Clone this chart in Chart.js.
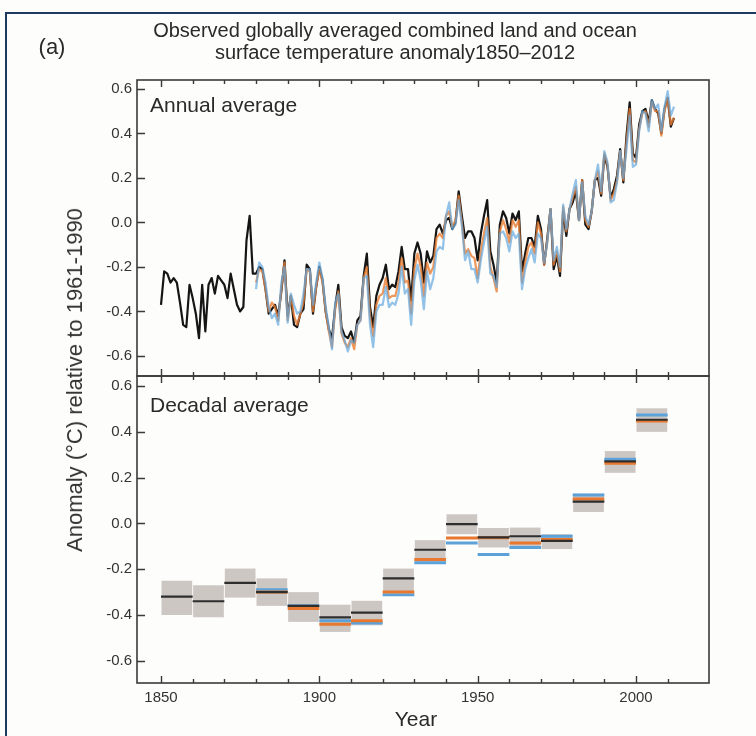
<!DOCTYPE html>
<html>
<head>
<meta charset="utf-8">
<script src="https://cdn.jsdelivr.net/npm/chart.js@4.4.1/dist/chart.umd.min.js"></script>
<style>
  html, body { margin: 0; padding: 0; background: #fdfdfb; }
  body { width: 756px; height: 736px; position: relative; overflow: hidden;
         font-family: "Liberation Sans", Arial, Helvetica, sans-serif; color: #2a2a2a; }
  #frame { position: absolute; left: 5px; top: 12px; width: 900px; height: 900px;
           border-top: 2px solid #1f3a5f; border-left: 2px solid #1f3a5f; }
  canvas { position: absolute; left: 0; top: 0; }
  .txt { position: absolute; white-space: nowrap; line-height: 1; }
  #title { left: 95px; width: 600px; top: 19px; text-align: center; font-size: 20px; line-height: 22px; }
  #tag { left: 52px; top: 47px; font-size: 22px; transform: translate(-50%, -50%); }
  #ytitle { left: 75px; top: 380px; font-size: 22px; color: #333; transform: translate(-50%, -50%) rotate(-90deg); }
  #xtitle { left: 416px; top: 718px; font-size: 21px; transform: translate(-50%, -50%); }
  .panel { left: 150px; font-size: 21px; transform: translateY(-50%); }
</style>
</head>
<body>
<div id="frame"></div>
<canvas id="c1" width="756" height="736"></canvas>
<canvas id="c2" width="756" height="736"></canvas>
<div class="txt" id="title">Observed globally averaged combined land and ocean<br>surface temperature anomaly1850–2012</div>
<div class="txt" id="tag">(a)</div>
<div class="txt" id="ytitle">Anomaly (°C) relative to 1961-1990</div>
<div class="txt" id="xtitle">Year</div>
<div class="txt panel" style="top:104px">Annual average</div>
<div class="txt panel" style="top:404px">Decadal average</div>
<script>
// ---------------- data ----------------
const yTickValues = [-0.6, -0.4, -0.2, 0.0, 0.2, 0.4, 0.6];
const xLabelYears = [1850, 1900, 1950, 2000];
const xDecadeTicks = [1850, 1860, 1870, 1880, 1890, 1900, 1910, 1920, 1930, 1940, 1950, 1960, 1970, 1980, 1990, 2000, 2010];

// annual: black series 1850-2012
const blackStart = 1850;
const blackAnnual = [
 -0.37,-0.22,-0.23,-0.27,-0.25,-0.27,-0.36,-0.46,-0.47,-0.28,
 -0.34,-0.41,-0.52,-0.28,-0.49,-0.28,-0.25,-0.32,-0.24,-0.26,
 -0.28,-0.34,-0.23,-0.30,-0.37,-0.40,-0.38,-0.08, 0.03,-0.23,
 -0.23,-0.20,-0.21,-0.30,-0.41,-0.39,-0.37,-0.42,-0.31,-0.17,
 -0.42,-0.33,-0.46,-0.47,-0.41,-0.39,-0.19,-0.21,-0.41,-0.29,
 -0.20,-0.26,-0.40,-0.48,-0.52,-0.38,-0.28,-0.47,-0.51,-0.52,
 -0.49,-0.54,-0.44,-0.42,-0.24,-0.14,-0.38,-0.47,-0.33,-0.28,
 -0.25,-0.19,-0.30,-0.28,-0.29,-0.22,-0.11,-0.21,-0.21,-0.35,
 -0.14,-0.09,-0.14,-0.27,-0.13,-0.18,-0.15,-0.03,-0.01,-0.05,
  0.01, 0.02,-0.03, 0.00, 0.14, 0.03,-0.07,-0.04,-0.04,-0.07,
 -0.17,-0.05, 0.03, 0.10,-0.13,-0.19,-0.27,-0.01, 0.05, 0.02,
 -0.05, 0.04, 0.01, 0.05,-0.22,-0.14,-0.07,-0.07,-0.11, 0.03,
 -0.03,-0.19,-0.07, 0.06,-0.21,-0.15,-0.24, 0.05,-0.06, 0.06,
  0.09, 0.14, 0.01, 0.19,-0.01,-0.03, 0.05, 0.19, 0.20, 0.12,
  0.30, 0.25, 0.11, 0.15, 0.21, 0.33, 0.18, 0.39, 0.54, 0.31,
  0.29, 0.44, 0.50, 0.51, 0.45, 0.55, 0.51, 0.49, 0.40, 0.51,
  0.56, 0.43, 0.47
];
// orange and blue series 1880-2012
const colourStart = 1880;
const orangeAnnual = [
 -0.27,-0.21,-0.22,-0.30,-0.40,-0.36,-0.38,-0.44,-0.30,-0.18,
 -0.44,-0.33,-0.42,-0.46,-0.41,-0.36,-0.21,-0.22,-0.40,-0.29,
 -0.21,-0.27,-0.40,-0.49,-0.56,-0.39,-0.31,-0.50,-0.54,-0.56,
 -0.52,-0.57,-0.46,-0.44,-0.25,-0.20,-0.42,-0.51,-0.37,-0.33,
 -0.32,-0.25,-0.34,-0.33,-0.33,-0.27,-0.16,-0.27,-0.26,-0.41,
 -0.21,-0.14,-0.20,-0.33,-0.18,-0.23,-0.20,-0.07,-0.05,-0.07,
  0.03, 0.05,-0.02, 0.01, 0.12, 0.00,-0.14,-0.12,-0.15,-0.16,
 -0.25,-0.13,-0.05, 0.02,-0.20,-0.25,-0.31,-0.04, 0.01,-0.03,
 -0.09, 0.01,-0.02, 0.01,-0.27,-0.18,-0.11,-0.09,-0.14, 0.00,
 -0.05,-0.19,-0.08, 0.06,-0.19,-0.13,-0.22, 0.07,-0.04, 0.06,
  0.11, 0.16, 0.01, 0.19, 0.01,-0.02, 0.05, 0.19, 0.23, 0.13,
  0.31, 0.26, 0.10, 0.13, 0.19, 0.32, 0.19, 0.36, 0.51, 0.28,
  0.27, 0.42, 0.49, 0.50, 0.43, 0.54, 0.50, 0.50, 0.39, 0.50,
  0.56, 0.44, 0.47
];
const blueAnnual = [
 -0.30,-0.18,-0.20,-0.27,-0.38,-0.43,-0.41,-0.46,-0.27,-0.20,
 -0.45,-0.32,-0.37,-0.41,-0.40,-0.32,-0.21,-0.21,-0.37,-0.27,
 -0.18,-0.25,-0.38,-0.47,-0.57,-0.36,-0.32,-0.49,-0.53,-0.58,
 -0.53,-0.54,-0.46,-0.44,-0.25,-0.24,-0.46,-0.56,-0.40,-0.37,
 -0.37,-0.29,-0.38,-0.36,-0.37,-0.32,-0.20,-0.32,-0.30,-0.46,
 -0.26,-0.19,-0.26,-0.39,-0.22,-0.30,-0.25,-0.13,-0.11,-0.12,
  0.03, 0.09,-0.03,-0.01, 0.10,-0.01,-0.17,-0.13,-0.21,-0.21,
 -0.27,-0.17,-0.09,-0.02,-0.23,-0.24,-0.29,-0.05,-0.04,-0.07,
 -0.13,-0.04,-0.07,-0.05,-0.30,-0.21,-0.16,-0.12,-0.18,-0.05,
 -0.07,-0.18,-0.09, 0.06,-0.17,-0.11,-0.20, 0.08,-0.03, 0.06,
  0.13, 0.19, 0.01, 0.18, 0.03,-0.01, 0.05, 0.19, 0.26, 0.14,
  0.32, 0.27, 0.09, 0.10, 0.18, 0.32, 0.20, 0.33, 0.48, 0.25,
  0.26, 0.41, 0.50, 0.49, 0.41, 0.55, 0.51, 0.53, 0.41, 0.52,
  0.59, 0.48, 0.52
];

// decadal
const decadeStarts = [1850,1860,1870,1880,1890,1900,1910,1920,1930,1940,1950,1960,1970,1980,1990,2000];
const decadalBlack  = [-0.32,-0.34,-0.26,-0.30,-0.36,-0.41,-0.39,-0.24,-0.115,-0.003,-0.061,-0.056,-0.076,0.095,0.271,0.453];
const decadalOrange = [null,null,null,-0.30,-0.372,-0.44,-0.425,-0.30,-0.158,-0.064,-0.063,-0.085,-0.07,0.107,0.263,0.447];
const decadalBlue   = [null,null,null,-0.29,-0.36,-0.425,-0.435,-0.312,-0.172,-0.085,-0.136,-0.105,-0.056,0.124,0.28,0.474];
const decadalLow    = [-0.40,-0.41,-0.324,-0.36,-0.43,-0.474,-0.445,-0.30,-0.168,-0.047,-0.105,-0.11,-0.112,0.05,0.221,0.40];
const decadalHigh   = [-0.25,-0.27,-0.197,-0.24,-0.30,-0.355,-0.338,-0.197,-0.073,0.04,-0.02,-0.018,-0.047,0.13,0.316,0.503];

// ---------------- helpers ----------------
const X_MIN = 1842.42, X_MAX = 2023.05;
const FONT = '"Liberation Sans", Arial, Helvetica, sans-serif';
function annualPoints(start, arr) { return arr.map((v, i) => ({ x: start + i, y: v })); }
function decadePoints(arr) {
  const pts = [];
  decadeStarts.forEach((s, i) => {
    if (arr[i] === null) return;
    pts.push({ x: s, y: arr[i] }, { x: s + 10, y: arr[i] }, { x: s + 10, y: null });
  });
  return pts;
}

const framePlugin = {
  id: 'frameTicks',
  afterDraw(chart) {
    const { ctx, chartArea: a, scales } = chart;
    const xs = scales.x, ys = scales.y;
    ctx.save();
    ctx.strokeStyle = '#3a3a3a';
    ctx.lineWidth = 1.6;
    ctx.strokeRect(a.left, a.top, a.right - a.left, a.bottom - a.top);
    ctx.lineWidth = 1.4;
    ctx.beginPath();
    xDecadeTicks.forEach(yr => {
      const px = Math.round(xs.getPixelForValue(yr)) + 0.5;
      const len = xLabelYears.includes(yr) ? 7 : 4;
      ctx.moveTo(px, a.top); ctx.lineTo(px, a.top + len);
      ctx.moveTo(px, a.bottom); ctx.lineTo(px, a.bottom - len);
    });
    yTickValues.forEach(v => {
      const py = Math.round(ys.getPixelForValue(v)) + 0.5;
      ctx.moveTo(a.left, py); ctx.lineTo(a.left + 8, py);
    });
    ctx.stroke();
    ctx.restore();
  }
};

const yScale = (min, max) => ({
  type: 'linear', min, max,
  afterBuildTicks: s => { s.ticks = yTickValues.map(v => ({ value: v })); },
  afterFit: s => { s.width = 137; },
  grid: { display: false, drawTicks: false },
  border: { display: false },
  ticks: { callback: v => Number(v).toFixed(1), font: { family: FONT, size: 15 }, color: '#333', padding: 5 }
});

// ---------------- annual chart ----------------
new Chart(document.getElementById('c1'), {
  type: 'line',
  data: {
    datasets: [
      { data: annualPoints(colourStart, blueAnnual), borderColor: 'rgba(100,168,222,0.7)', borderWidth: 2.2, pointRadius: 0, order: 1 },
      { data: annualPoints(colourStart, orangeAnnual), borderColor: 'rgba(232,125,50,0.8)', borderWidth: 2.2, pointRadius: 0, order: 2 },
      { data: annualPoints(blackStart, blackAnnual), borderColor: '#151515', borderWidth: 2.2, pointRadius: 0, order: 3 }
    ]
  },
  options: {
    responsive: false, animation: false,
    layout: { padding: { left: 0, top: 80, right: 47, bottom: 360 } },
    plugins: { legend: { display: false }, tooltip: { enabled: false } },
    elements: { line: { tension: 0, borderJoinStyle: 'round' } },
    scales: {
      x: { type: 'linear', min: X_MIN, max: X_MAX, display: false },
      y: yScale(-0.69, 0.64)
    }
  },
  plugins: [framePlugin]
});

// ---------------- decadal chart ----------------
new Chart(document.getElementById('c2'), {
  type: 'bar',
  data: {
    datasets: [
      { type: 'line', data: decadePoints(decadalBlack), borderColor: '#2e2e2e', borderWidth: 2.2, pointRadius: 0, spanGaps: false, order: 1 },
      { type: 'line', data: decadePoints(decadalOrange), borderColor: '#e8782f', borderWidth: 3, pointRadius: 0, spanGaps: false, order: 2 },
      { type: 'line', data: decadePoints(decadalBlue), borderColor: '#5ca2d8', borderWidth: 3, pointRadius: 0, spanGaps: false, order: 3 },
      { type: 'bar', data: decadeStarts.map((s, i) => ({ x: s + 5, y: [decadalLow[i], decadalHigh[i]] })),
        backgroundColor: '#cdc7c4', borderWidth: 0, barPercentage: 0.97, categoryPercentage: 1, order: 4 }
    ]
  },
  options: {
    responsive: false, animation: false,
    layout: { padding: { left: 0, top: 376, right: 47, bottom: 23 } },
    plugins: { legend: { display: false }, tooltip: { enabled: false } },
    scales: {
      x: {
        type: 'linear', min: X_MIN, max: X_MAX, offset: false,
        afterBuildTicks: s => { s.ticks = xLabelYears.map(v => ({ value: v })); },
        afterFit: s => { s.height = 30; },
        grid: { display: false, drawTicks: false, offset: false },
        border: { display: false },
        ticks: { callback: v => String(v), font: { family: FONT, size: 15 }, color: '#333', padding: 6, maxRotation: 0 }
      },
      y: yScale(-0.697, 0.644)
    }
  },
  plugins: [framePlugin]
});
</script>
</body>
</html>
